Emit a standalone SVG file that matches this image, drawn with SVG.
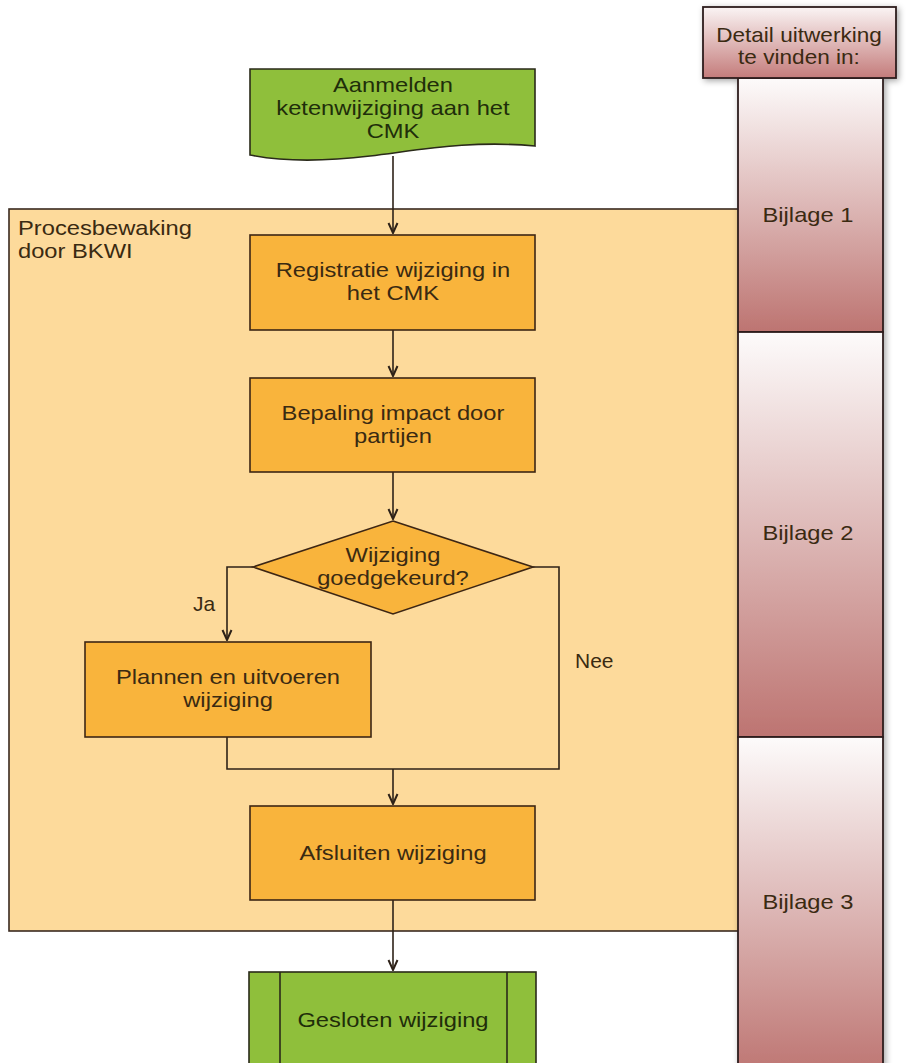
<svg xmlns="http://www.w3.org/2000/svg" width="907" height="1063" viewBox="0 0 907 1063">
<style>
text { font-family: "Liberation Sans", Arial, sans-serif; font-size: 21px; fill: #3a2a12; }
.c { text-anchor: middle; transform-box: fill-box; transform-origin: center; transform: scaleX(1.13); }
.l { transform-box: fill-box; transform-origin: left; transform: scaleX(1.13); }
.h { font-size: 20px; }
.g { fill: #1f2e0a; }
.orange { fill: #f9b43c; stroke: #3d2614; stroke-width: 1.6; }
.green { fill: #8fbf3b; stroke: #2a2a1a; stroke-width: 1.6; }
.conn { fill: none; stroke: #2e2218; stroke-width: 1.6; }
.col { stroke: #2e1c1c; stroke-width: 1.8; }
</style>
<defs>
<linearGradient id="pink" x1="0" y1="0" x2="0" y2="1">
<stop offset="0" stop-color="#fdfbfb"/>
<stop offset="1" stop-color="#bd7471"/>
</linearGradient>
<linearGradient id="pinkHead" x1="0" y1="0" x2="0" y2="1">
<stop offset="0" stop-color="#faf4f4"/>
<stop offset="1" stop-color="#c47c7b"/>
</linearGradient>
<filter id="sh" x="-20%" y="-5%" width="140%" height="115%">
<feDropShadow dx="2" dy="2" stdDeviation="3" flood-color="#000" flood-opacity="0.35"/>
</filter>
<marker id="arr" viewBox="0 0 12 12" refX="11" refY="6" markerWidth="12" markerHeight="12" markerUnits="userSpaceOnUse" orient="auto">
<path d="M1,1.5 L11,6 L1,10.5" fill="none" stroke="#2e2218" stroke-width="2"/>
</marker>
</defs>

<g id="container">
<rect x="9" y="209" width="740" height="722" fill="#fdda9b" stroke="#3a2a20" stroke-width="1.6"/>
<text class="l" x="18" y="235">Procesbewaking</text>
<text class="l" x="18" y="258">door BKWI</text>
</g>

<g id="detail-column" filter="url(#sh)">
<rect id="bijlage1" class="col" x="738" y="78" width="145" height="254" fill="url(#pink)"/>
<rect id="bijlage2" class="col" x="738" y="332" width="145" height="405" fill="url(#pink)"/>
<rect id="bijlage3" class="col" x="738" y="737" width="145" height="340" fill="url(#pink)"/>
<rect id="header" class="col" x="703" y="7" width="193" height="71" fill="url(#pinkHead)"/>
</g>
<g id="detail-labels">
<text class="c h" x="799" y="42">Detail uitwerking</text>
<text class="c h" x="799" y="64">te vinden in:</text>
<text class="c" x="808" y="222">Bijlage 1</text>
<text class="c" x="808" y="540">Bijlage 2</text>
<text class="c" x="808" y="909">Bijlage 3</text>
</g>

<g id="connectors">
<line class="conn" x1="393" y1="156" x2="393" y2="233" marker-end="url(#arr)"/>
<line class="conn" x1="393" y1="330" x2="393" y2="376" marker-end="url(#arr)"/>
<line class="conn" x1="393" y1="472" x2="393" y2="519" marker-end="url(#arr)"/>
<polyline class="conn" points="253,567 227,567 227,640" marker-end="url(#arr)"/>
<polyline class="conn" points="533,567 559,567 559,769 227,769 227,737"/>
<line class="conn" x1="393" y1="769" x2="393" y2="804" marker-end="url(#arr)"/>
<line class="conn" x1="393" y1="900" x2="393" y2="970" marker-end="url(#arr)"/>
<text x="193" y="611">Ja</text>
<text x="575" y="668">Nee</text>
</g>

<g id="aanmelden">
<path class="green" d="M250,69 H535 V146 C470,140 420,150 370,156 C320,162 280,161 250,155 Z"/>
<text class="c g" x="393" y="92">Aanmelden</text>
<text class="c g" x="393" y="115">ketenwijziging aan het</text>
<text class="c g" x="393" y="138">CMK</text>
</g>

<g id="registratie">
<rect class="orange" x="250" y="235" width="285" height="95"/>
<text class="c" x="393" y="277">Registratie wijziging in</text>
<text class="c" x="393" y="300">het CMK</text>
</g>

<g id="bepaling">
<rect class="orange" x="250" y="378" width="285" height="94"/>
<text class="c" x="393" y="420">Bepaling impact door</text>
<text class="c" x="393" y="443">partijen</text>
</g>

<g id="besluit">
<polygon class="orange" points="393,521 533,567 393,614 253,567"/>
<text class="c" x="393" y="562">Wijziging</text>
<text class="c" x="393" y="585">goedgekeurd?</text>
</g>

<g id="plannen">
<rect class="orange" x="85" y="642" width="286" height="95"/>
<text class="c" x="228" y="684">Plannen en uitvoeren</text>
<text class="c" x="228" y="707">wijziging</text>
</g>

<g id="afsluiten">
<rect class="orange" x="250" y="806" width="285" height="94"/>
<text class="c" x="393" y="860">Afsluiten wijziging</text>
</g>

<g id="gesloten">
<rect class="green" x="249" y="972" width="287" height="100"/>
<line x1="280" y1="972" x2="280" y2="1063" stroke="#2a2a1a" stroke-width="1.6"/>
<line x1="507" y1="972" x2="507" y2="1063" stroke="#2a2a1a" stroke-width="1.6"/>
<text class="c g" x="393" y="1027">Gesloten wijziging</text>
</g>
</svg>
